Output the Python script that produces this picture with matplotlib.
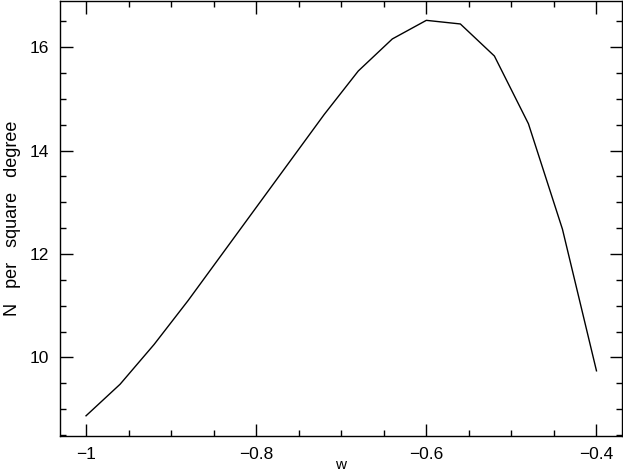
import numpy as np
import matplotlib.pyplot as plt
from matplotlib.ticker import MultipleLocator

# dark energy equation of state w vs. number density
w = [-1.00, -0.96, -0.92, -0.88, -0.84, -0.80, -0.76, -0.72,
     -0.68, -0.64, -0.60, -0.56, -0.52, -0.48, -0.44, -0.40]
n_per_deg2 = [8.87, 9.48, 10.25, 11.10, 12.00, 12.90, 13.80, 14.70,
              15.54, 16.16, 16.52, 16.45, 15.83, 14.52, 12.48, 9.74]

plt.rcParams['font.family'] = ['Liberation Sans', 'DejaVu Sans']

fig = plt.figure(figsize=(6.23, 4.72), dpi=100)
ax = fig.add_axes([60 / 623, 1 - 435.7 / 472, 562 / 623, 435 / 472])

ax.plot(w, n_per_deg2, color='black', linewidth=1.0)

ax.set_xlim(-1.0306, -0.370)
ax.set_ylim(8.485, 16.9)

ax.xaxis.set_major_locator(MultipleLocator(0.2))
ax.xaxis.set_minor_locator(MultipleLocator(0.05))
ax.yaxis.set_major_locator(MultipleLocator(2))
ax.yaxis.set_minor_locator(MultipleLocator(0.5))
ax.xaxis.set_major_formatter(lambda v, p: f"{v:g}".replace('-', '\u2212'))

ax.tick_params(which='both', direction='in', top=True, right=True,
               labelsize=12.5, width=1, pad=8)
ax.tick_params(which='major', length=9)
ax.tick_params(which='minor', length=4)

for s in ax.spines.values():
    s.set_linewidth(1)

ax.set_xlabel('w', fontsize=11, labelpad=-3)
ax.set_ylabel('N   per   square   degree', fontsize=13, labelpad=6)

fig.savefig('out.png', dpi=100)
